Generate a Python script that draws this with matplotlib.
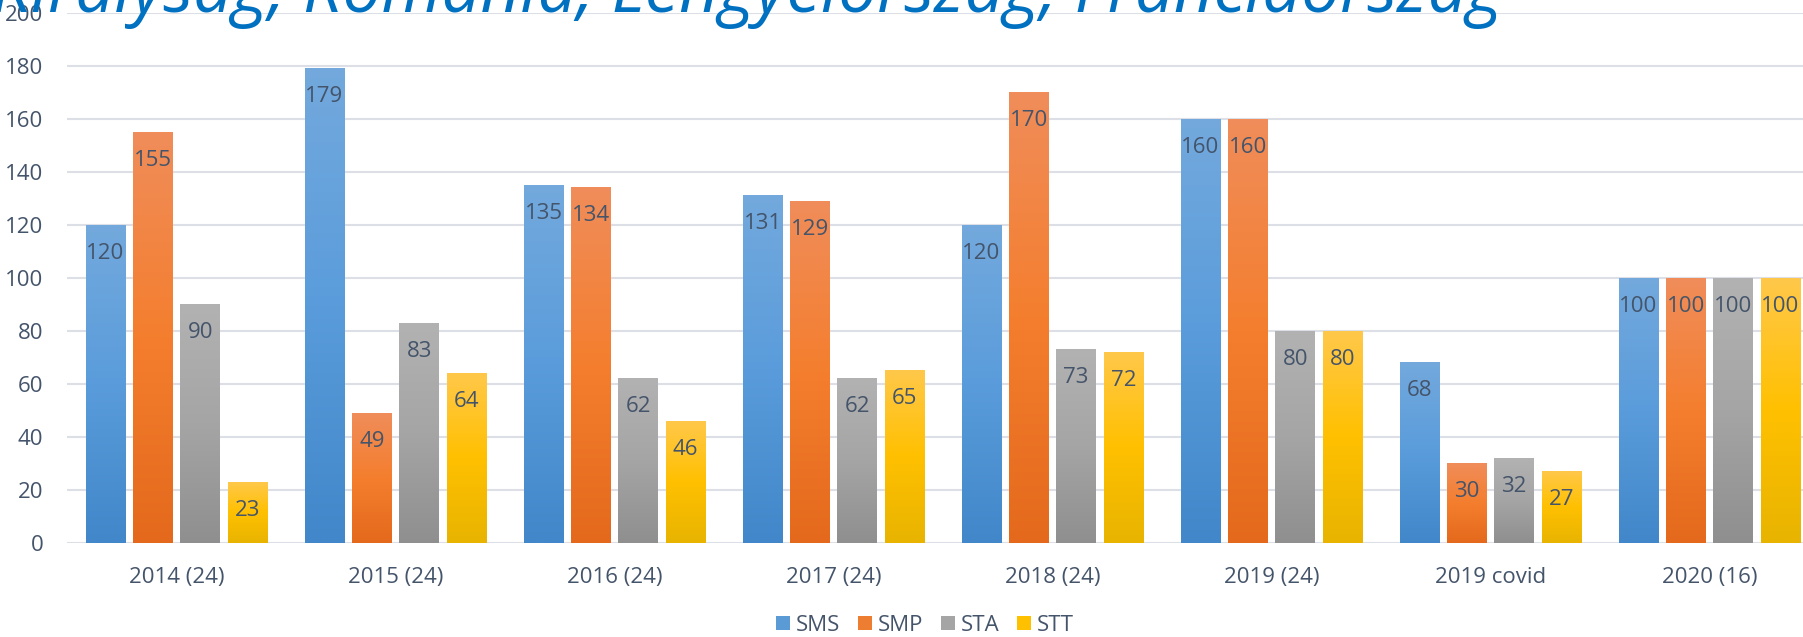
import numpy as np
import matplotlib
matplotlib.use("Agg")
import matplotlib.pyplot as plt
from matplotlib.colors import LinearSegmentedColormap
from matplotlib.patches import Patch

categories = ["2014 (24)", "2015 (24)", "2016 (24)", "2017 (24)",
              "2018 (24)", "2019 (24)", "2019 covid", "2020 (16)"]
series = ["SMS", "SMP", "STA", "STT"]
sms = [120, 179, 135, 131, 120, 160, 68, 100]
smp = [155, 49, 134, 129, 170, 160, 30, 100]
sta = [90, 83, 62, 62, 73, 80, 32, 100]
stt = [23, 64, 46, 65, 72, 80, 27, 100]
values = [sms, smp, sta, stt]
title = "Királyság, Románia, Lengyelország, Franciaország"

# gradient colours, bottom -> top
gradients = [
    ["#4187C9", "#5A9CDB", "#73A9DD"],
    ["#E4691C", "#F47E2E", "#F08D5A"],
    ["#8F8F8F", "#A5A5A5", "#B2B2B2"],
    ["#E8B400", "#FFC000", "#FFC84A"],
]
flat = ["#5B9BD5", "#ED7D31", "#A5A5A5", "#FFC000"]
text_color = "#44546A"
grid_color = "#DCE0E6"
fs = 16

plt.rcParams["font.family"] = ["Open Sans", "DejaVu Sans"]

W, H = 1803, 637
fig = plt.figure(figsize=(W / 100, H / 100), dpi=100)
ax = fig.add_axes([67 / W, 1 - 543.3 / H, 1752 / W, 530 / H])

x = np.arange(len(categories))
bar_w = 0.18
step = 0.216
offsets = (np.arange(4) - 1.5) * step

for i, vals in enumerate(values):
    bars = ax.bar(x + offsets[i], vals, width=bar_w, color=flat[i], zorder=2)
    cmap = LinearSegmentedColormap.from_list("g%d" % i, gradients[i])
    grad = np.linspace(0, 1, 256).reshape(-1, 1)
    for b, v in zip(bars, vals):
        x0 = b.get_x()
        ax.imshow(grad, extent=[x0, x0 + b.get_width(), 0, v], origin="lower",
                  aspect="auto", cmap=cmap, zorder=3, interpolation="bilinear")
        ax.annotate(str(v), (x0 + b.get_width() / 2, v), xytext=(0, -20),
                    textcoords="offset points", ha="center", va="center",
                    fontsize=fs, color=text_color, zorder=4)

ax.set_xlim(-0.5, len(categories) - 0.5)
ax.set_ylim(0, 200)
ax.set_yticks(range(0, 201, 20))
ax.set_xticks(x)
ax.set_xticklabels(categories)
ax.tick_params(axis="both", length=0, labelsize=fs, labelcolor=text_color)
ax.tick_params(axis="x", pad=17)
ax.tick_params(axis="y", pad=17)
ax.yaxis.grid(True, color=grid_color, linewidth=1.5, zorder=0)
ax.set_axisbelow(True)
for s in ax.spines.values():
    s.set_visible(False)

handles = [Patch(facecolor=c, edgecolor="none") for c in flat]
fig.legend(handles, series, loc="lower center", bbox_to_anchor=(925 / W, -0.019),
           ncol=4, frameon=False, fontsize=fs, labelcolor=text_color,
           handlelength=0.63, handleheight=0.63, handletextpad=0.25,
           columnspacing=0.8, borderpad=0.1)

t = fig.text(-8 / W, 1 - 12 / H, title, fontsize=40, style="italic",
             color="#0070C0", ha="left", va="baseline")
fig.canvas.draw()
width = t.get_window_extent().width
t.set_fontsize(40 * 1508 / width)

fig.savefig("out.png", dpi=100)
